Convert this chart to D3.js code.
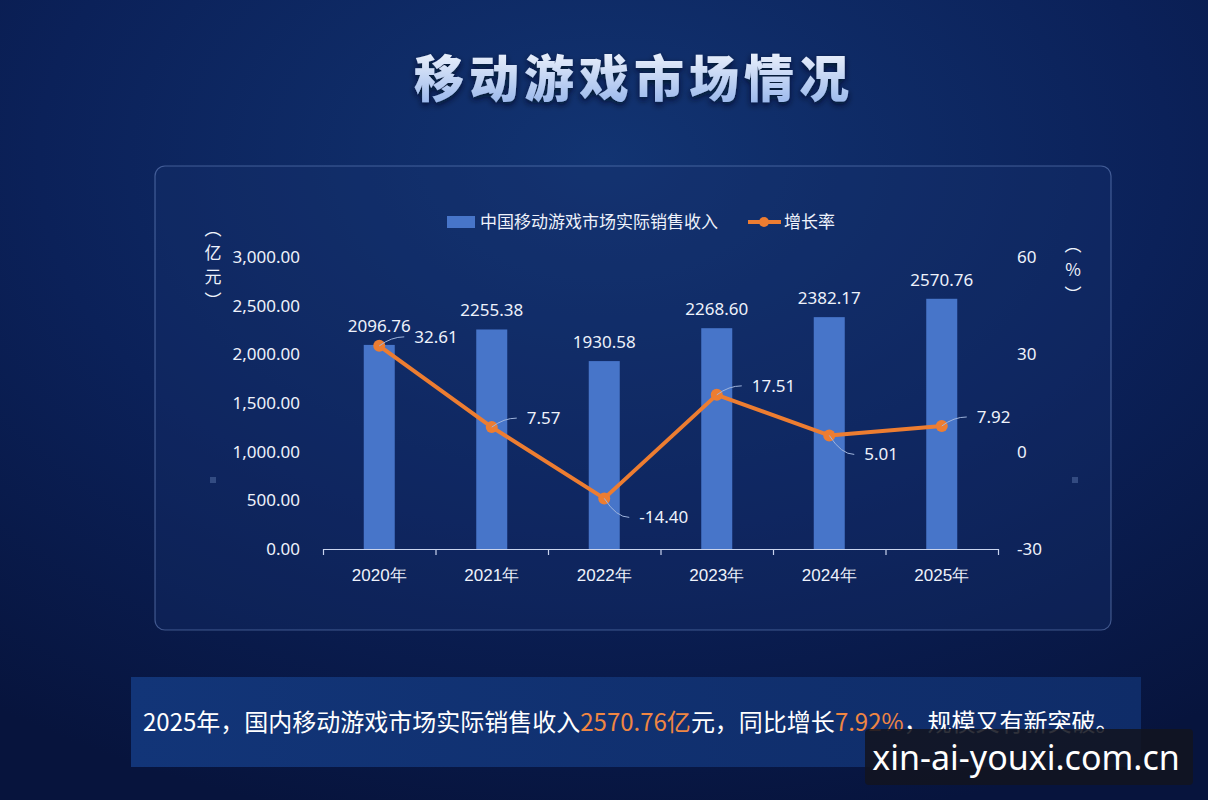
<!DOCTYPE html>
<html>
<head>
<meta charset="utf-8">
<script src="https://cdn.jsdelivr.net/npm/d3@7"></script>
<style>
  html, body { margin: 0; padding: 0; background: #0a1a48; }
  svg { display: block; font-family: "Noto Sans CJK SC", "Noto Sans", sans-serif; }
</style>
</head>
<body>
<svg id="chart" width="1208" height="800"></svg>
<script>
// ---- data ----
const years = ['2020年', '2021年', '2022年', '2023年', '2024年', '2025年'];
const revenue = [2096.76, 2255.38, 1930.58, 2268.60, 2382.17, 2570.76];
const growth = [32.61, 7.57, -14.40, 17.51, 5.01, 7.92];
const leftTicks = [0, 500, 1000, 1500, 2000, 2500, 3000];
const rightTicks = [-30, 0, 30, 60];
// which side the growth label sits on
const growthLabelDir = ['up', 'up', 'down', 'up', 'down', 'up'];

const W = 1208, H = 800;
const svg = d3.select('#chart');
const defs = svg.append('defs');

// ---- background ----
const bg = defs.append('radialGradient').attr('id', 'bg')
    .attr('cx', '50%').attr('cy', '20%').attr('r', '85%');
bg.append('stop').attr('offset', '0%').attr('stop-color', '#123472');
bg.append('stop').attr('offset', '55%').attr('stop-color', '#0b2159');
bg.append('stop').attr('offset', '100%').attr('stop-color', '#07143d');
svg.append('rect').attr('width', W).attr('height', H).attr('fill', 'url(#bg)');

// title
const tg = defs.append('linearGradient').attr('id', 'titleGrad')
    .attr('x1', 0).attr('y1', 0).attr('x2', 0).attr('y2', 1);
tg.append('stop').attr('offset', '0%').attr('stop-color', '#ffffff');
tg.append('stop').attr('offset', '100%').attr('stop-color', '#8fb0ea');
const shadow = defs.append('filter').attr('id', 'shadow');
shadow.append('feDropShadow').attr('dx', 0).attr('dy', 3).attr('stdDeviation', 3)
    .attr('flood-color', '#000820').attr('flood-opacity', 0.8);

svg.append('text')
    .attr('x', 634).attr('y', 97)
    .attr('text-anchor', 'middle')
    .attr('font-size', 50).attr('font-weight', 900)
    .attr('letter-spacing', 5)
    .attr('fill', 'url(#titleGrad)')
    .attr('filter', 'url(#shadow)')
    .text('移动游戏市场情况');

// panel
svg.append('rect')
    .attr('x', 155).attr('y', 166).attr('width', 956).attr('height', 464)
    .attr('rx', 10)
    .attr('fill', 'rgba(24,48,110,0.35)')
    .attr('stroke', 'rgba(130,160,220,0.45)').attr('stroke-width', 1.2);

// ---- scales ----
const plot = { left: 323, right: 998, top: 257, bottom: 549 };
const x = d3.scaleBand().domain(years).range([plot.left, plot.right]).padding(0);
const xIdx = d3.scaleLinear().domain([0, years.length]).range([plot.left, plot.right]);
const y = d3.scaleLinear().domain([0, 3000]).range([plot.bottom, plot.top]);
const y2 = d3.scaleLinear().domain([-30, 60]).range([plot.bottom, plot.top]);

const textColor = '#eef2fb';
const barColor = '#4775c9';
const lineColor = '#ed7d31';
const barW = 31;

// left axis
const leftAxis = svg.append('g')
    .attr('transform', `translate(${plot.left - 17},0)`)
    .call(d3.axisLeft(y).tickValues(leftTicks).tickSize(0).tickPadding(6).tickFormat(d3.format(',.2f')));
leftAxis.select('.domain').remove();
leftAxis.selectAll('text').attr('fill', textColor).style('font-size', '17px')
    .style('font-family', '"Noto Sans", sans-serif');

// right axis
const rightAxis = svg.append('g')
    .attr('transform', `translate(${plot.right + 13},0)`)
    .call(d3.axisRight(y2).tickValues(rightTicks).tickSize(0).tickPadding(6).tickFormat(d => String(d)));
rightAxis.select('.domain').remove();
rightAxis.selectAll('text').attr('fill', textColor).style('font-size', '17px')
    .style('font-family', '"Noto Sans", sans-serif');

// axis titles (vertical)
svg.append('text')
    .attr('x', 213).attr('y', 220)
    .attr('font-size', 17).attr('fill', textColor)
    .style('writing-mode', 'vertical-rl')
    .style('letter-spacing', '7px')
    .text('（亿元）');
svg.append('text')
    .attr('x', 1073).attr('y', 236)
    .attr('font-size', 17).attr('fill', textColor)
    .style('writing-mode', 'vertical-rl')
    .style('text-orientation', 'upright')
    .style('letter-spacing', '8px')
    .text('（%）');

// bars
svg.append('g').selectAll('rect')
    .data(revenue)
    .join('rect')
    .attr('x', (d, i) => x(years[i]) + x.bandwidth() / 2 - barW / 2)
    .attr('y', d => y(d))
    .attr('width', barW)
    .attr('height', d => y(0) - y(d))
    .attr('fill', barColor);

// bar labels
svg.append('g').selectAll('text')
    .data(revenue)
    .join('text')
    .attr('x', (d, i) => x(years[i]) + x.bandwidth() / 2)
    .attr('y', d => y(d) - 13)
    .attr('text-anchor', 'middle')
    .attr('font-size', 17).attr('fill', textColor)
    .style('font-family', '"Noto Sans", sans-serif')
    .text(d => d.toFixed(2));

// x axis
const xAxis = svg.append('g')
    .attr('transform', `translate(0,${plot.bottom})`)
    .call(d3.axisBottom(x).tickSize(0).tickPadding(20));
xAxis.select('.domain').attr('stroke', '#c9d4ee').attr('stroke-width', 1.2);
xAxis.selectAll('text').attr('fill', textColor).style('font-size', '17px');
const xTicks = svg.append('g')
    .attr('transform', `translate(0,${plot.bottom})`)
    .call(d3.axisBottom(xIdx).tickValues(d3.range(years.length + 1)).tickSize(6).tickFormat(''));
xTicks.select('.domain').remove();
xTicks.selectAll('line').attr('stroke', '#c9d4ee').attr('stroke-width', 1.2);

// growth line
const cx = i => x(years[i]) + x.bandwidth() / 2;
const line = d3.line().x((d, i) => cx(i)).y(d => y2(d));
svg.append('path')
    .datum(growth)
    .attr('d', line)
    .attr('fill', 'none')
    .attr('stroke', lineColor).attr('stroke-width', 4)
    .attr('stroke-linejoin', 'round');
svg.append('g').selectAll('circle')
    .data(growth)
    .join('circle')
    .attr('cx', (d, i) => cx(i)).attr('cy', d => y2(d))
    .attr('r', 6).attr('fill', lineColor);

// growth labels with leader lines
const lab = svg.append('g');
growth.forEach((d, i) => {
  const px = cx(i), py = y2(d);
  const up = growthLabelDir[i] === 'up';
  const ex = px + 25, ey = py + (up ? -9 : 19);
  lab.append('path')
      .attr('d', `M${px},${py} Q${px + 12},${ey} ${ex},${ey}`)
      .attr('fill', 'none').attr('stroke', '#9fb4dc').attr('stroke-width', 1);
  lab.append('text')
      .attr('x', ex + 10).attr('y', ey + 6)
      .attr('font-size', 17).attr('fill', textColor)
      .style('font-family', '"Noto Sans", sans-serif')
      .text(d.toFixed(2));
});

// legend
const lg = svg.append('g').attr('font-size', 17).attr('fill', textColor);
lg.append('rect').attr('x', 447).attr('y', 216).attr('width', 28).attr('height', 12).attr('fill', barColor);
lg.append('text').attr('x', 480).attr('y', 228).text('中国移动游戏市场实际销售收入');
lg.append('line').attr('x1', 748).attr('x2', 781).attr('y1', 222).attr('y2', 222)
    .attr('stroke', lineColor).attr('stroke-width', 4);
lg.append('circle').attr('cx', 764).attr('cy', 222).attr('r', 5).attr('fill', lineColor);
lg.append('text').attr('x', 784).attr('y', 228).text('增长率');

// small decorative dots
svg.append('g').selectAll('rect')
    .data([213, 1075])
    .join('rect')
    .attr('x', d => d - 3).attr('y', 477).attr('width', 6).attr('height', 6)
    .attr('fill', 'rgba(120,150,200,0.35)');

// ---- bottom banner ----
const bn = defs.append('linearGradient').attr('id', 'banner')
    .attr('x1', 0).attr('y1', 0).attr('x2', 1).attr('y2', 0);
bn.append('stop').attr('offset', '0%').attr('stop-color', '#123578');
bn.append('stop').attr('offset', '100%').attr('stop-color', '#0f2c68');
svg.append('rect')
    .attr('x', 131).attr('y', 677).attr('width', 1010).attr('height', 90)
    .attr('fill', 'url(#banner)');

const orange = '#f08642';
const bt = svg.append('text')
    .attr('x', 143).attr('y', 731)
    .attr('font-size', 24).attr('fill', '#ffffff');
[
  ['2025年，国内移动游戏市场实际销售收入', '#ffffff'],
  ['2570.76亿', orange],
  ['元，同比增长', '#ffffff'],
  ['7.92%', orange],
  ['，规模又有新突破。', '#ffffff']
].forEach(([t, c]) => bt.append('tspan').attr('fill', c).text(t));

// watermark
svg.append('rect')
    .attr('x', 865).attr('y', 729).attr('width', 328).attr('height', 56).attr('rx', 4)
    .attr('fill', 'rgba(18,20,32,0.88)');
svg.append('text')
    .attr('x', 1026).attr('y', 770)
    .attr('text-anchor', 'middle')
    .attr('font-size', 34).attr('fill', '#ffffff')
    .style('font-family', '"Noto Sans", sans-serif')
    .text('xin-ai-youxi.com.cn');
</script>
</body>
</html>
